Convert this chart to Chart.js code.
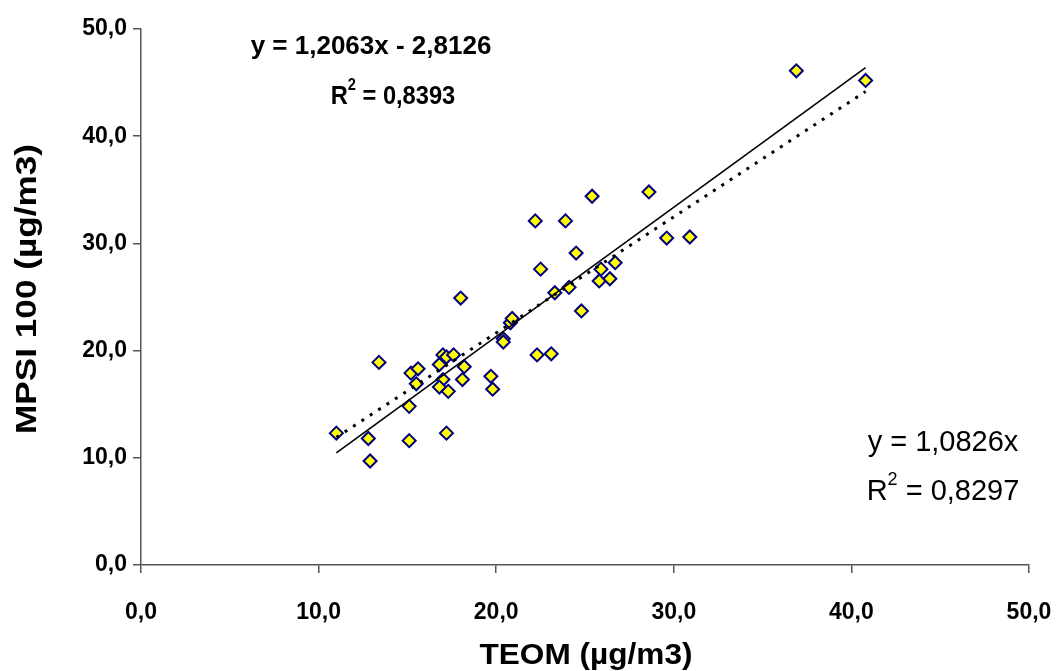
<!DOCTYPE html>
<html>
<head>
<meta charset="utf-8">
<script src="https://cdn.jsdelivr.net/npm/chart.js@4.4.1/dist/chart.umd.min.js"></script>
<style>
  html, body { margin: 0; padding: 0; background: #fff; }
  #wrap { width: 1058px; height: 671px; position: relative; }
</style>
</head>
<body>
<div id="wrap"><canvas id="myChart"></canvas></div>
<script>
// TEOM vs MPSI 100 daily values (µg/m3)
const teom = [11.0, 12.8, 12.9, 13.4, 15.1, 15.1, 15.2, 15.6, 15.5, 16.8,
  17.0, 17.2, 17.6, 17.0, 16.8, 17.3, 17.2, 18.2, 18.1, 18.0,
  19.7, 19.8, 20.4, 20.4, 20.8, 20.9, 22.3, 23.1, 22.2, 23.9,
  24.5, 22.5, 23.3, 24.1, 25.9, 26.7, 25.8, 26.4, 24.8, 25.4,
  28.6, 29.6, 30.9, 36.9, 40.8];
const mpsi = [12.3, 11.8, 9.7, 18.9, 14.8, 11.6, 17.9, 18.3, 16.9, 18.7,
  19.6, 19.4, 19.6, 17.3, 16.6, 16.2, 12.3, 18.5, 17.3, 24.9,
  17.6, 16.4, 21.1, 20.8, 22.6, 23.0, 19.6, 19.7, 32.1, 32.1,
  29.1, 27.6, 25.4, 25.9, 27.6, 28.2, 26.5, 26.7, 23.7, 34.4,
  34.8, 30.5, 30.6, 46.1, 45.2];

// regression coefficients: [slope, intercept, r2]
const linFit = [1.2063, -2.8126, 0.8393];
const zeroFit = [1.0826, 0, 0.8297];

const axisTicks = [0, 10, 20, 30, 40, 50];
const xTitle = 'TEOM (µg/m3)';
const yTitle = 'MPSI 100 (µg/m3)';

const fmt = (v, d) => v.toFixed(d).replace('.', ',');

let points = teom.map((x, i) => ({ x: x, y: mpsi[i] }));
let xMin = Math.min(...teom);
let xMax = Math.max(...teom);

const fitLine = (c) => [
  { x: xMin, y: c[0] * xMin + c[1] },
  { x: xMax, y: c[0] * xMax + c[1] },
];

const FONT = '"Liberation Sans", Arial, sans-serif';

// writes "R² = ..." with a raised small 2, sx squeezes it horizontally
const drawR2 = (ctx, cx, cy, value, size, weight, sx) => {
  let big = weight + ' ' + size + 'px ' + FONT;
  let small = weight + ' ' + Math.round(size * 0.62) + 'px ' + FONT;
  let rest = ' = ' + value;
  ctx.save();
  ctx.translate(cx, cy);
  ctx.scale(sx, 1);
  ctx.font = big;
  let wR = ctx.measureText('R').width;
  let wRest = ctx.measureText(rest).width;
  ctx.font = small;
  let w2 = ctx.measureText('2').width;
  let x = -(wR + w2 + wRest) / 2;
  ctx.textAlign = 'left';
  ctx.textBaseline = 'middle';
  ctx.font = big;
  ctx.fillText('R', x, 0);
  ctx.font = small;
  ctx.fillText('2', x + wR, -size * 0.42);
  ctx.font = big;
  ctx.fillText(rest, x + wR + w2, 0);
  ctx.restore();
};

// axis title stretched to a given length along its baseline
const drawTitle = (ctx, text, cx, cy, len, angle) => {
  ctx.save();
  ctx.translate(cx, cy);
  ctx.rotate(angle);
  ctx.font = 'bold 29px ' + FONT;
  let w = ctx.measureText(text).width;
  ctx.scale(len / w, 1);
  ctx.textAlign = 'center';
  ctx.textBaseline = 'middle';
  ctx.fillText(text, 0, 0);
  ctx.restore();
};

const labels = {
  id: 'labels',
  afterDraw(chart) {
    const ctx = chart.ctx;
    ctx.save();
    ctx.fillStyle = '#000';
    ctx.textAlign = 'center';
    ctx.textBaseline = 'middle';

    ctx.font = 'bold 26px ' + FONT;
    ctx.fillText('y = ' + fmt(linFit[0], 4) + 'x - ' + fmt(-linFit[1], 4), 371, 47);
    drawR2(ctx, 393, 97, fmt(linFit[2], 4), 26, 'bold', 0.91);

    ctx.font = 'normal 29px ' + FONT;
    ctx.textAlign = 'center';
    ctx.fillText('y = ' + fmt(zeroFit[0], 4) + 'x', 943, 443);
    drawR2(ctx, 943, 492, fmt(zeroFit[2], 4), 29, 'normal', 1);

    drawTitle(ctx, xTitle, 586, 656, 213, 0);
    drawTitle(ctx, yTitle, 28, 289, 290, -Math.PI / 2);
    ctx.restore();
  },
};

const axisStyle = (tickPad) => ({
  type: 'linear',
  min: axisTicks[0],
  max: axisTicks[axisTicks.length - 1],
  afterBuildTicks: (s) => { s.ticks = axisTicks.map((v) => ({ value: v })); },
  border: { display: true, color: '#555', width: 1.5 },
  grid: { drawOnChartArea: false, drawTicks: true, tickLength: 8, color: '#555', lineWidth: 1.5 },
  ticks: {
    color: '#000',
    padding: tickPad,
    font: { family: FONT, size: 23, weight: 'bold' },
    callback: (v) => fmt(v, 1),
  },
});

let xAxis = axisStyle(26);
xAxis.position = 'bottom';
xAxis.afterFit = (s) => {
  s.height = 106;
  s.paddingLeft = 0;
  s.paddingRight = 29;
};

let yAxis = axisStyle(6);
yAxis.position = 'left';
yAxis.afterFit = (s) => {
  s.width = 141;
  s.paddingTop = 29;
  s.paddingBottom = 0;
};

new Chart(document.getElementById('myChart'), {
  type: 'scatter',
  data: {
    datasets: [
      {
        type: 'line',
        label: 'linear',
        data: fitLine(linFit),
        borderColor: '#000',
        borderWidth: 1.6,
        pointRadius: 0,
        fill: false,
      },
      {
        type: 'line',
        label: 'through origin',
        data: fitLine(zeroFit),
        borderColor: '#000',
        borderWidth: 3,
        borderDash: [3, 7],
        pointRadius: 0,
        fill: false,
      },
      {
        label: 'MPSI 100',
        data: points,
        pointStyle: 'rectRot',
        pointRadius: 6.5,
        pointBackgroundColor: '#ffff00',
        pointBorderColor: '#000080',
        pointBorderWidth: 2,
      },
    ],
  },
  options: {
    responsive: true,
    maintainAspectRatio: false,
    animation: false,
    layout: { padding: { top: 29, right: 0, bottom: 0, left: 0 } },
    plugins: {
      legend: { display: false },
      tooltip: { enabled: false },
    },
    scales: { x: xAxis, y: yAxis },
  },
  plugins: [labels],
});
</script>
</body>
</html>
